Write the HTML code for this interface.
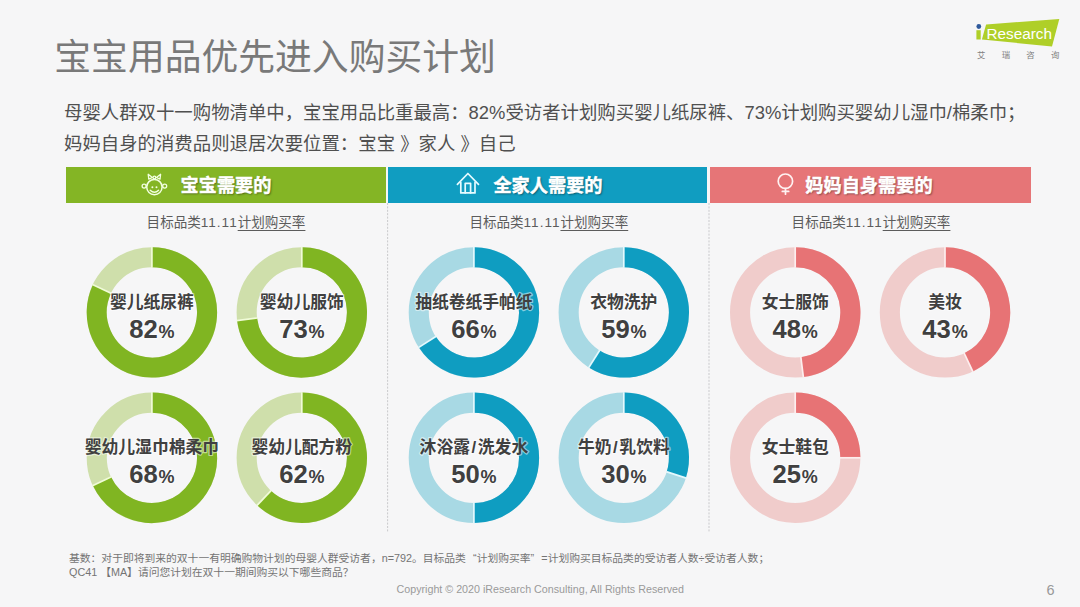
<!DOCTYPE html>
<html lang="zh-CN"><head><meta charset="utf-8"><title>宝宝用品优先进入购买计划</title>
<style>
html,body{margin:0;padding:0;}
body{width:1080px;height:607px;overflow:hidden;background:#f6f6f7;font-family:"Liberation Sans","Noto Sans CJK SC",sans-serif;position:relative;color:#444;}
.abs{position:absolute;white-space:nowrap;}
#title{left:54.3px;top:30.4px;font-size:36.8px;line-height:56px;font-weight:400;color:#797979;}
#sub{left:64px;top:97.8px;font-size:18.4px;line-height:30.7px;color:#505050;}
.band{position:absolute;top:166.7px;height:36px;}
.bt{position:absolute;top:169.1px;-webkit-text-stroke:0.45px #fff;height:35.5px;line-height:35.5px;font-size:18.2px;font-weight:700;color:#fff;text-shadow:1px 1px 2px rgba(0,0,0,.45);white-space:nowrap;}
.lab{position:absolute;top:211.5px;width:200px;text-align:center;font-size:13.55px;line-height:22px;color:#5c5c5c;white-space:nowrap;}
.lab i{font-style:normal;letter-spacing:1px;}
.lab u{text-decoration-thickness:1px;text-underline-offset:2.6px;}
#foot{left:69px;top:550.5px;font-size:10.79px;line-height:14px;color:#747474;}
#foot .q{display:inline-block;width:1em;}
#foot .ql{text-align:right;}
#foot .qr{text-align:left;}
#copy{left:396.5px;top:582px;font-size:10.71px;line-height:14px;color:#9a9a9a;}
#pg{left:1046.5px;top:581px;font-size:14.5px;line-height:18px;color:#999;}
svg text{font-family:"Liberation Sans","Noto Sans CJK SC",sans-serif;}
.dl{font-size:16.8px;font-weight:700;fill:#404040;text-anchor:middle;stroke:rgba(255,255,255,.5);stroke-width:2.4px;paint-order:stroke fill;stroke-linejoin:round;}
.dn{font-size:25.6px;font-weight:700;fill:#404040;text-anchor:middle;stroke:rgba(255,255,255,.5);stroke-width:2.4px;paint-order:stroke fill;stroke-linejoin:round;}
.dp{font-size:18px;}
</style></head><body>
<div id="title" class="abs">宝宝用品优先进入购买计划</div>
<div id="sub" class="abs">母婴人群双十一购物清单中，宝宝用品比重最高：82%受访者计划购买婴儿纸尿裤、73%计划购买婴幼儿湿巾/棉柔巾；<br>妈妈自身的消费品则退居次要位置：宝宝 》家人 》自己</div>

<div class="band" style="left:66px;width:320.3px;background:#84b525;"></div>
<div class="band" style="left:388.2px;width:319.3px;background:#109dc1;"></div>
<div class="band" style="left:709.5px;width:321.2px;background:#e67577;"></div>
<div class="bt" style="left:180.5px;">宝宝需要的</div>
<div class="bt" style="left:493.4px;">全家人需要的</div>
<div class="bt" style="left:805.3px;">妈妈自身需要的</div>

<div class="lab" style="left:126px;">目标品类<i>11.11</i><u>计划购买率</u></div>
<div class="lab" style="left:448.8px;">目标品类<i>11.11</i><u>计划购买率</u></div>
<div class="lab" style="left:771px;">目标品类<i>11.11</i><u>计划购买率</u></div>


<svg class="abs" style="left:0;top:0;" width="1080" height="607" viewBox="0 0 1080 607">
<path d="M387.6 203V532.5M709 203V532.5" fill="none" stroke="#c9c9cc" stroke-width="1" stroke-dasharray="2 1.4"/>
<!-- logo -->
<polygon points="986.1,24.4 1059.3,18.9 1052,46.4 981.9,39.6" fill="#afcf28"/>
<rect x="976.4" y="30.2" width="4.3" height="9.3" fill="#afcf28"/>
<circle cx="978.8" cy="26.5" r="2.4" fill="#2f5a9c"/>
<text x="986.4" y="39" font-size="14.9" fill="#fff" textLength="65.6" lengthAdjust="spacingAndGlyphs">Research</text>
<text x="977" y="57.9" font-size="8.4" fill="#808080" letter-spacing="16.3">艾瑞咨询</text>
<!-- icons -->
<g id="baby" fill="none" stroke="#f2ffe0" stroke-width="1.3" stroke-linecap="round" stroke-linejoin="round">
<circle cx="154.4" cy="187.1" r="7.7" stroke-width="1.5"/>
<circle cx="144.1" cy="186.1" r="2"/><circle cx="164.7" cy="186.1" r="2"/>
<path d="M148.2 174.3L148.8 179.1L152.4 177.5ZM160.6 174.3L160 179.1L156.4 177.5Z"/>
<circle cx="154.4" cy="177.5" r="1.4"/>
<path d="M150.2 190.2Q154.4 194.2 158.6 190.2"/>
</g>
<circle cx="152.4" cy="187.3" r="1" fill="#f2ffe0"/><circle cx="156.5" cy="187.3" r="1" fill="#f2ffe0"/>
<g id="home" fill="none" stroke="#e6fbff" stroke-width="1.7" stroke-linecap="round" stroke-linejoin="round">
<path d="M457.4 184.3L467.9 173.5L478.5 184.3"/>
<path d="M460.8 182.4V192.9H475V182.4"/>
<path d="M465.2 192.9V183.3H470.6V192.9"/>
</g>
<g id="female" fill="none" stroke="#fff2f2" stroke-width="1.7" stroke-linecap="round">
<circle cx="785.4" cy="181.2" r="7.2"/>
<path d="M785.5 188.6V194.2M782.3 191.4H788.7"/>
</g>
<circle cx="151.9" cy="312.4" r="55.15" fill="none" stroke="#cfdfab" stroke-width="20.10"/>
<path d="M151.9 257.25 A55.15 55.15 0 1 1 102.00 288.92" fill="none" stroke="#80b522" stroke-width="20.10"/>
<line x1="151.90" y1="267.80" x2="151.90" y2="246.70" stroke="#f0fbd8" stroke-width="1.7"/>
<line x1="111.54" y1="293.41" x2="92.45" y2="284.43" stroke="#f0fbd8" stroke-width="1.7"/>
<text class="dl" x="151.9" y="308.1">婴儿纸尿裤</text>
<text class="dn" x="151.9" y="337.7">82<tspan class="dp" dx="0.8">%</tspan></text>
<circle cx="301.8" cy="312.4" r="55.15" fill="none" stroke="#cfdfab" stroke-width="20.10"/>
<path d="M301.8 257.25 A55.15 55.15 0 1 1 247.08 319.31" fill="none" stroke="#80b522" stroke-width="20.10"/>
<line x1="301.80" y1="267.80" x2="301.80" y2="246.70" stroke="#f0fbd8" stroke-width="1.7"/>
<line x1="257.55" y1="317.99" x2="236.62" y2="320.63" stroke="#f0fbd8" stroke-width="1.7"/>
<text class="dl" x="301.8" y="308.1">婴幼儿服饰</text>
<text class="dn" x="301.8" y="337.7">73<tspan class="dp" dx="0.8">%</tspan></text>
<circle cx="151.9" cy="457.8" r="55.15" fill="none" stroke="#cfdfab" stroke-width="20.10"/>
<path d="M151.9 402.65 A55.15 55.15 0 1 1 102.00 481.28" fill="none" stroke="#80b522" stroke-width="20.10"/>
<line x1="151.90" y1="413.20" x2="151.90" y2="392.10" stroke="#f0fbd8" stroke-width="1.7"/>
<line x1="111.54" y1="476.79" x2="92.45" y2="485.77" stroke="#f0fbd8" stroke-width="1.7"/>
<text class="dl" x="151.9" y="452.9">婴幼儿湿巾棉柔巾</text>
<text class="dn" x="151.9" y="483.1">68<tspan class="dp" dx="0.8">%</tspan></text>
<circle cx="301.8" cy="457.8" r="55.15" fill="none" stroke="#cfdfab" stroke-width="20.10"/>
<path d="M301.8 402.65 A55.15 55.15 0 1 1 264.05 498.00" fill="none" stroke="#80b522" stroke-width="20.10"/>
<line x1="301.80" y1="413.20" x2="301.80" y2="392.10" stroke="#f0fbd8" stroke-width="1.7"/>
<line x1="271.27" y1="490.31" x2="256.83" y2="505.69" stroke="#f0fbd8" stroke-width="1.7"/>
<text class="dl" x="301.8" y="452.9">婴幼儿配方粉</text>
<text class="dn" x="301.8" y="483.1">62<tspan class="dp" dx="0.8">%</tspan></text>
<circle cx="473.9" cy="312.4" r="55.15" fill="none" stroke="#a8d9e4" stroke-width="20.10"/>
<path d="M473.9 257.25 A55.15 55.15 0 1 1 427.34 341.95" fill="none" stroke="#0f9dc1" stroke-width="20.10"/>
<line x1="473.90" y1="267.80" x2="473.90" y2="246.70" stroke="#e4f9fd" stroke-width="1.7"/>
<line x1="436.24" y1="336.30" x2="418.43" y2="347.60" stroke="#e4f9fd" stroke-width="1.7"/>
<text class="dl" x="473.9" y="308.1">抽纸卷纸手帕纸</text>
<text class="dn" x="473.9" y="337.7">66<tspan class="dp" dx="0.8">%</tspan></text>
<circle cx="623.8" cy="312.4" r="55.15" fill="none" stroke="#a8d9e4" stroke-width="20.10"/>
<path d="M623.8 257.25 A55.15 55.15 0 1 1 594.25 358.96" fill="none" stroke="#0f9dc1" stroke-width="20.10"/>
<line x1="623.80" y1="267.80" x2="623.80" y2="246.70" stroke="#e4f9fd" stroke-width="1.7"/>
<line x1="599.90" y1="350.06" x2="588.60" y2="367.87" stroke="#e4f9fd" stroke-width="1.7"/>
<text class="dl" x="623.8" y="308.1">衣物洗护</text>
<text class="dn" x="623.8" y="337.7">59<tspan class="dp" dx="0.8">%</tspan></text>
<circle cx="473.9" cy="457.8" r="55.15" fill="none" stroke="#a8d9e4" stroke-width="20.10"/>
<path d="M473.9 402.65 A55.15 55.15 0 0 1 473.90 512.95" fill="none" stroke="#0f9dc1" stroke-width="20.10"/>
<line x1="473.90" y1="413.20" x2="473.90" y2="392.10" stroke="#e4f9fd" stroke-width="1.7"/>
<line x1="473.90" y1="502.40" x2="473.90" y2="523.50" stroke="#e4f9fd" stroke-width="1.7"/>
<text class="dl" x="473.9" y="452.9">沐浴露<tspan dx="1.6">/</tspan><tspan dx="1.6">洗发水</tspan></text>
<text class="dn" x="473.9" y="483.1">50<tspan class="dp" dx="0.8">%</tspan></text>
<circle cx="623.8" cy="457.8" r="55.15" fill="none" stroke="#a8d9e4" stroke-width="20.10"/>
<path d="M623.8 402.65 A55.15 55.15 0 0 1 676.25 474.84" fill="none" stroke="#0f9dc1" stroke-width="20.10"/>
<line x1="623.80" y1="413.20" x2="623.80" y2="392.10" stroke="#e4f9fd" stroke-width="1.7"/>
<line x1="666.22" y1="471.58" x2="686.28" y2="478.10" stroke="#e4f9fd" stroke-width="1.7"/>
<text class="dl" x="623.8" y="452.9">牛奶<tspan dx="1.6">/</tspan><tspan dx="1.6">乳饮料</tspan></text>
<text class="dn" x="623.8" y="483.1">30<tspan class="dp" dx="0.8">%</tspan></text>
<circle cx="795.2" cy="312.4" r="55.15" fill="none" stroke="#f0cccb" stroke-width="20.10"/>
<path d="M795.2 257.25 A55.15 55.15 0 0 1 802.11 367.12" fill="none" stroke="#e77375" stroke-width="20.10"/>
<line x1="795.20" y1="267.80" x2="795.20" y2="246.70" stroke="#fdeeee" stroke-width="1.7"/>
<line x1="800.79" y1="356.65" x2="803.43" y2="377.58" stroke="#fdeeee" stroke-width="1.7"/>
<text class="dl" x="795.2" y="308.1">女士服饰</text>
<text class="dn" x="795.2" y="337.7">48<tspan class="dp" dx="0.8">%</tspan></text>
<circle cx="945.0" cy="312.4" r="55.15" fill="none" stroke="#f0cccb" stroke-width="20.10"/>
<path d="M945.0 257.25 A55.15 55.15 0 0 1 968.48 362.30" fill="none" stroke="#e77375" stroke-width="20.10"/>
<line x1="945.00" y1="267.80" x2="945.00" y2="246.70" stroke="#fdeeee" stroke-width="1.7"/>
<line x1="963.99" y1="352.76" x2="972.97" y2="371.85" stroke="#fdeeee" stroke-width="1.7"/>
<text class="dl" x="945.0" y="308.1">美妆</text>
<text class="dn" x="945.0" y="337.7">43<tspan class="dp" dx="0.8">%</tspan></text>
<circle cx="795.2" cy="457.8" r="55.15" fill="none" stroke="#f0cccb" stroke-width="20.10"/>
<path d="M795.2 402.65 A55.15 55.15 0 0 1 850.35 457.80" fill="none" stroke="#e77375" stroke-width="20.10"/>
<line x1="795.20" y1="413.20" x2="795.20" y2="392.10" stroke="#fdeeee" stroke-width="1.7"/>
<line x1="839.80" y1="457.80" x2="860.90" y2="457.80" stroke="#fdeeee" stroke-width="1.7"/>
<text class="dl" x="795.2" y="452.9">女士鞋包</text>
<text class="dn" x="795.2" y="483.1">25<tspan class="dp" dx="0.8">%</tspan></text>
</svg>

<div id="foot" class="abs">基数：对于即将到来的双十一有明确购物计划的母婴人群受访者，n=792。目标品类<span class="q ql">“</span>计划购买率<span class="q qr">”</span>=计划购买目标品类的受访者人数÷受访者人数；<br>QC41 【MA】请问您计划在双十一期间购买以下哪些商品？</div>
<div id="copy" class="abs">Copyright © 2020 iResearch Consulting, All Rights Reserved</div>
<div id="pg" class="abs">6</div>
</body></html>
